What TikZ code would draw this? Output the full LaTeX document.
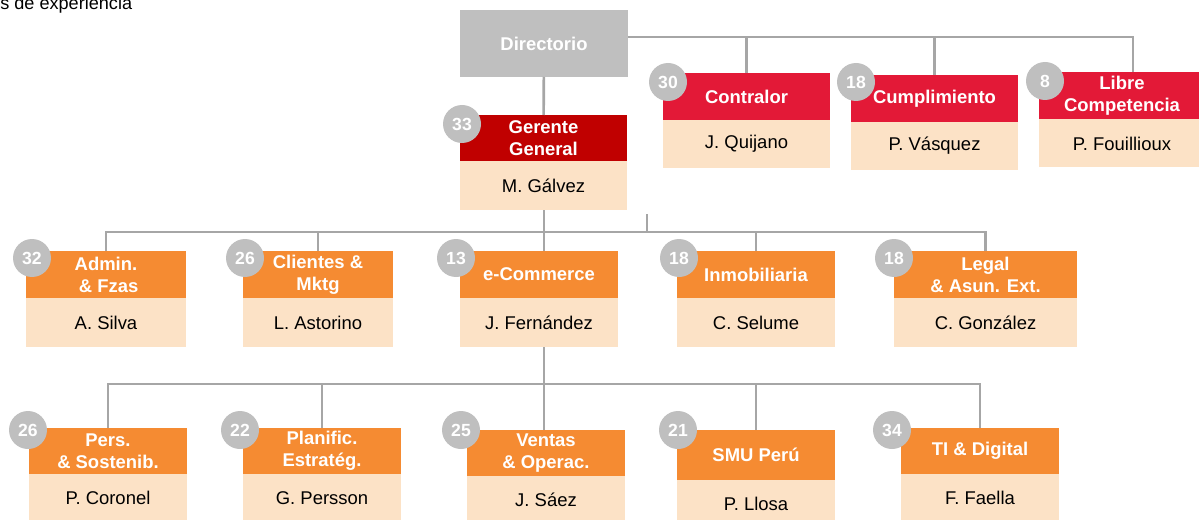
\documentclass[tikz,border=0pt]{standalone}
\usepackage{fontspec}
\setmainfont{Liberation Sans}
\usetikzlibrary{positioning}
\definecolor{lineGray}{HTML}{A6A6A6}
\definecolor{dirGray}{HTML}{BFBFBF}
\definecolor{ggRed}{HTML}{C00000}
\definecolor{stRed}{HTML}{E31937}
\definecolor{hdOrange}{HTML}{F58B32}
\definecolor{nmPeach}{HTML}{FCE2C6}
\newcommand{\px}{0.02cm}
\tikzset{
	hdr/.style={fill=hdOrange,text=white,inner sep=0,outer sep=0,align=center,
		minimum width=158*\px,minimum height=47*\px,
		font=\bfseries\fontsize{10.5}{12.5}\selectfont},
	nm/.style={fill=nmPeach,text=black,inner sep=0,outer sep=0,anchor=north,
		minimum width=158*\px,minimum height=49*\px,
		font=\fontsize{10.5}{12}\selectfont},
	yrs/.style={circle,fill=dirGray,text=white,inner sep=0,outer sep=0,
		minimum size=38*\px,font=\bfseries\fontsize{10}{11}\selectfont},
	ln/.style={draw=lineGray,line width=1.5pt}
}
\begin{document}
\begin{tikzpicture}[x=\px,y=-\px]
	\useasboundingbox (0,0) rectangle (1199,520);
	\node[anchor=base west,inner sep=0,font=\fontsize{10.3}{12}\selectfont] (legend) at (0,9.5) {s de experiencia};
	% directorio y staff
	\node[hdr,fill=dirGray,minimum width=168*\px,minimum height=67*\px] (dir) at (544,43.5) {Directorio};
	\node[hdr,fill=ggRed,minimum width=167*\px,minimum height=46*\px] (gg) at (543.5,138) {Gerente\\General};
	\node[nm,minimum width=167*\px] (ggn) at (gg.south) {M. Gálvez};
	\node[hdr,fill=stRed,minimum width=167*\px] (contr) at (746.5,96.5) {Contralor};
	\node[nm,minimum width=167*\px,minimum height=48*\px] (contrn) at (contr.south) {J. Quijano};
	\node[hdr,fill=stRed,minimum width=167*\px] (cump) at (934.5,98.5) {Cumplimiento};
	\node[nm,minimum width=167*\px,minimum height=48*\px] (cumpn) at (cump.south) {P. Vásquez};
	\node[hdr,fill=stRed,minimum width=167*\px] (libre) at (1122,96) {Libre\\Competencia};
	\node[nm,minimum width=167*\px,minimum height=48*\px] (libren) at (libre.south) {P. Fouillioux};
	% gerencias
	\node[hdr,minimum width=160*\px] (adm) at (106,274.5) {Admin.\\\ \& Fzas};
	\node[nm,minimum width=160*\px] (admn) at (adm.south) {A. Silva};
	\node[hdr,minimum width=150*\px] (cli) at (318,274.5) {Clientes \&\\Mktg};
	\node[nm,minimum width=150*\px] (clin) at (cli.south) {L. Astorino};
	\node[hdr] (ecom) at (539,274.5) {e-Commerce};
	\node[nm] (ecomn) at (ecom.south) {J. Fernández};
	\node[hdr] (inmo) at (756,274.5) {Inmobiliaria};
	\node[nm] (inmon) at (inmo.south) {C. Selume};
	\node[hdr,minimum width=183*\px] (legal) at (985.5,274.5) {Legal\\\& Asun. Ext.};
	\node[nm,minimum width=183*\px] (legaln) at (legal.south) {C. González};
	% e-commerce
	\node[hdr,minimum height=46*\px] (pers) at (108,451) {Pers.\\\& Sostenib.};
	\node[nm,minimum height=48*\px] (persn) at (pers.south) {P. Coronel};
	\node[hdr,minimum height=46*\px] (plan) at (322,451) {Planific.\\Estratég.};
	\node[nm,minimum height=48*\px] (plann) at (plan.south) {G. Persson};
	\node[hdr,minimum height=46*\px] (vent) at (546,453) {Ventas\\\& Operac.};
	\node[nm,minimum height=48*\px] (ventn) at (vent.south) {J. Sáez};
	\node[hdr,minimum height=50*\px] (smu) at (756,455) {SMU Perú};
	\node[nm,minimum height=48*\px] (smun) at (smu.south) {P. Llosa};
	\node[hdr,minimum height=46*\px] (ti) at (980,451) {TI \& Digital};
	\node[nm,minimum height=48*\px] (tin) at (ti.south) {F. Faella};
	% años
	\node[yrs] (ggy) at (462,124) {33};
	\node[yrs] (contry) at (668,82) {30};
	\node[yrs] (cumpy) at (856,82) {18};
	\node[yrs] (librey) at (1045,81) {8};
	\node[yrs] (admy) at (32,258) {32};
	\node[yrs] (cliy) at (245,258) {26};
	\node[yrs] (ecomy) at (456,258) {13};
	\node[yrs] (inmoy) at (679,258) {18};
	\node[yrs] (legaly) at (894,258) {18};
	\node[yrs] (persy) at (28,430) {26};
	\node[yrs] (plany) at (240,430) {22};
	\node[yrs] (venty) at (461,430) {25};
	\node[yrs] (smuy) at (678,430) {21};
	\node[yrs] (tiy) at (892,430) {34};
	% lineas
	\coordinate (b0) at (628,37);
	\coordinate (b1) at (544,232);
	\coordinate (b2) at (544,384);
	\coordinate (stub) at (647,214);
	\coordinate (lib) at ([xshift=11*\px]libre.north);
	\draw[ln] (dir) -- (gg);
	\draw[ln] (b0) -| (lib);
	\draw[ln] (b0 -| contr.north) -- (contr.north);
	\draw[ln] (b0 -| cump.north) -- (cump.north);
	\draw[ln] (ggn.south -| b1) -- (b1) -- (b1 |- ecom.north);
	\draw[ln] (adm.north) |- (b1) -| (legal.north);
	\draw[ln] (b1 -| cli.north) -- (cli.north);
	\draw[ln] (b1 -| inmo.north) -- (inmo.north);
	\draw[ln] (stub) -- (stub |- b1);
	\draw[ln] (ecomn.south -| b2) -- (b2) -- (b2 |- vent.north);
	\draw[ln] (pers.north) |- (b2) -| (ti.north);
	\draw[ln] (b2 -| plan.north) -- (plan.north);
	\draw[ln] (b2 -| smu.north) -- (smu.north);
\end{tikzpicture}
\end{document}
